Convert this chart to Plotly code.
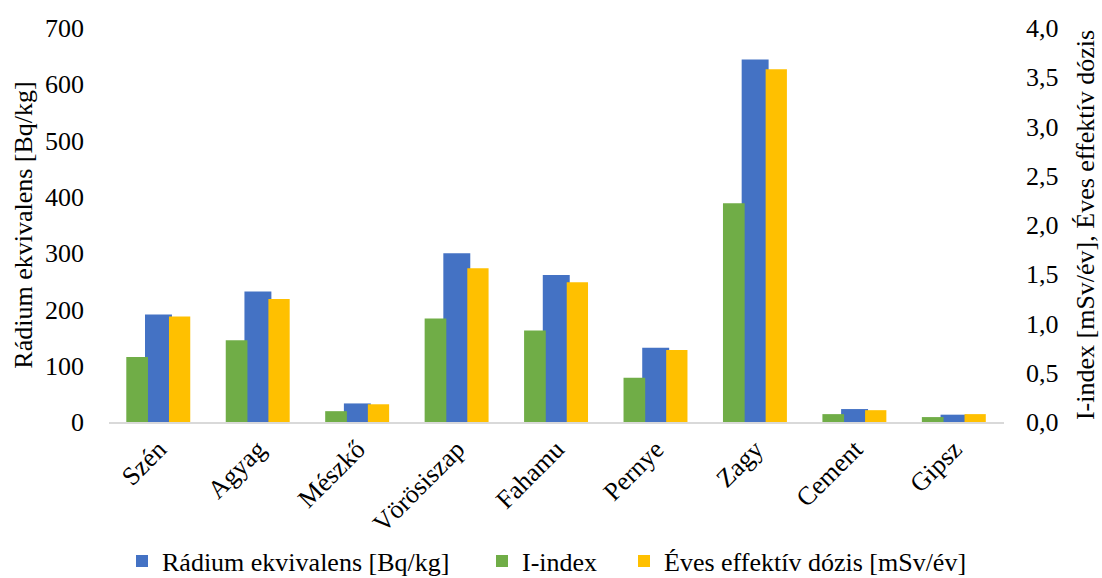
import plotly.graph_objects as go

# Materials and measured values
categories = ["Szén", "Agyag", "Mészkő", "Vörösiszap", "Fahamu",
              "Pernye", "Zagy", "Cement", "Gipsz"]
radium_eq = [191, 232, 33, 300, 261, 132, 644, 23, 13]          # Bq/kg
i_index = [0.66, 0.83, 0.11, 1.05, 0.93, 0.45, 2.22, 0.08, 0.05]
annual_dose = [1.07, 1.25, 0.18, 1.56, 1.42, 0.73, 3.58, 0.12, 0.08]  # mSv/év

left_ticks = [0, 100, 200, 300, 400, 500, 600, 700]
right_ticks = [0.0, 0.5, 1.0, 1.5, 2.0, 2.5, 3.0, 3.5, 4.0]

FONT = "Liberation Serif, Times New Roman, serif"
FS = 26

fig = go.Figure()

fig.add_trace(go.Bar(
    x=categories, y=radium_eq, name="Rádium ekvivalens [Bq/kg]",
    marker=dict(color="#4472C4", line=dict(width=0)),
    offset=-0.138, width=0.271, yaxis="y", legendwidth=315,
))
fig.add_trace(go.Bar(
    x=categories, y=i_index, name="I-index",
    marker=dict(color="#70AD47", line=dict(width=0)),
    offset=-0.326, width=0.218, yaxis="y2", legendwidth=97,
))
fig.add_trace(go.Bar(
    x=categories, y=annual_dose, name="Éves effektív dózis [mSv/év]",
    marker=dict(color="#FFC000", line=dict(width=0)),
    offset=0.103, width=0.214, yaxis="y2",
))

fig.update_layout(
    width=1102, height=578,
    margin=dict(l=109, r=98, t=28, b=156, autoexpand=False),
    paper_bgcolor="white", plot_bgcolor="white",
    barmode="overlay",
    separators=", ",
    font=dict(family=FONT, size=FS, color="#000000"),
    showlegend=True,
    legend=dict(
        orientation="h", xref="container", yref="container",
        x=122 / 1102, xanchor="left", y=1 - 561 / 578, yanchor="middle",
        font=dict(family=FONT, size=FS, color="#000000"),
        bgcolor="rgba(0,0,0,0)", traceorder="normal",
    ),
    xaxis=dict(
        type="category", range=[-0.5, 8.5], tickangle=-45,
        showline=True, linecolor="#D9D9D9", linewidth=1.5,
        ticks="", showgrid=False, zeroline=False,
        tickfont=dict(family=FONT, size=FS),
    ),
    yaxis=dict(
        range=[0, 700], tickvals=left_ticks, showgrid=False, zeroline=False,
        showline=False, ticks="", ticklabelstandoff=24,
        title=dict(text="Rádium ekvivalens [Bq/kg]", standoff=4,
                   font=dict(family=FONT, size=FS)),
        tickfont=dict(family=FONT, size=FS),
    ),
    yaxis2=dict(
        range=[0, 4], tickvals=right_ticks, tickformat=".1f",
        overlaying="y", side="right", showgrid=False, zeroline=False,
        showline=False, ticks="", ticklabelstandoff=21,
        title=dict(text="I-index [mSv/év], Éves effektív dózis", standoff=18,
                   font=dict(family=FONT, size=FS)),
        tickfont=dict(family=FONT, size=FS),
    ),
)

fig.write_html("out.html")
